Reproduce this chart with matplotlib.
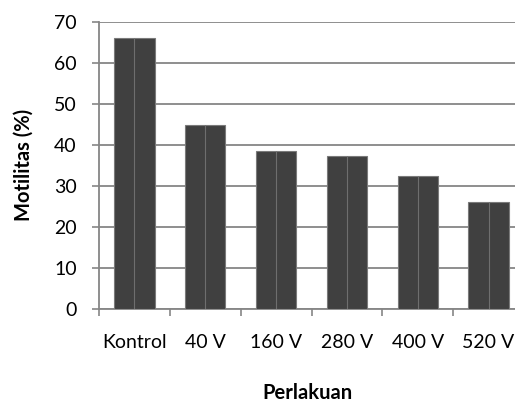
import matplotlib
matplotlib.use("Agg")
import matplotlib.pyplot as plt
import numpy as np

# motility per treatment group
perlakuan = ["Kontrol", "40 V", "160 V", "280 V", "400 V", "520 V"]
motilitas = [66, 45, 38.5, 37.3, 32.5, 26.1]
y_ticks = [0, 10, 20, 30, 40, 50, 60, 70]

plt.rcParams["font.family"] = ["Lato", "DejaVu Sans"]
grey = "#868686"

fig = plt.figure(figsize=(5.15, 4.03), dpi=100)
# plot area runs a little past the right edge of the canvas
ax = fig.add_axes([99 / 515, 1 - 309 / 403, 425 / 515, 287 / 403])

xs = np.arange(len(perlakuan))
ax.bar(xs, motilitas, width=0.57, color="#404040", edgecolor="#7a7a7a",
       linewidth=0.8, zorder=3)
ax.vlines(xs, 0, motilitas, color="#6e6e6e", linewidth=0.8, zorder=4)

ax.set_xlim(-0.5, len(perlakuan) - 0.5)
ax.set_ylim(0, 70)
ax.set_yticks(y_ticks)
ax.yaxis.grid(True, color=grey, linewidth=1.3, zorder=0)
ax.set_axisbelow(True)

ax.set_xticks(xs)
ax.set_xticklabels(perlakuan, fontsize=14)
ax.set_xticks(np.arange(len(perlakuan)) - 0.5, minor=True)
ax.tick_params(axis="x", which="major", length=0, pad=18)
ax.tick_params(axis="x", which="minor", length=5, width=1.2, color=grey,
               direction="out")
ax.tick_params(axis="y", length=5, width=1.2, color=grey, direction="out",
               labelsize=14, pad=11)

for side in ["top", "right"]:
    ax.spines[side].set_visible(False)
for side in ["left", "bottom"]:
    ax.spines[side].set_color(grey)
    ax.spines[side].set_linewidth(1.3)

fig.text(24 / 515, 1 - 165 / 403, "Motilitas (%)", rotation=90,
         ha="center", va="center", fontsize=14.5, fontweight="bold")
fig.text(307 / 515, 1 - 393 / 403, "Perlakuan", ha="center", va="center",
         fontsize=14.5, fontweight="bold")

fig.savefig("out.png", dpi=100)
